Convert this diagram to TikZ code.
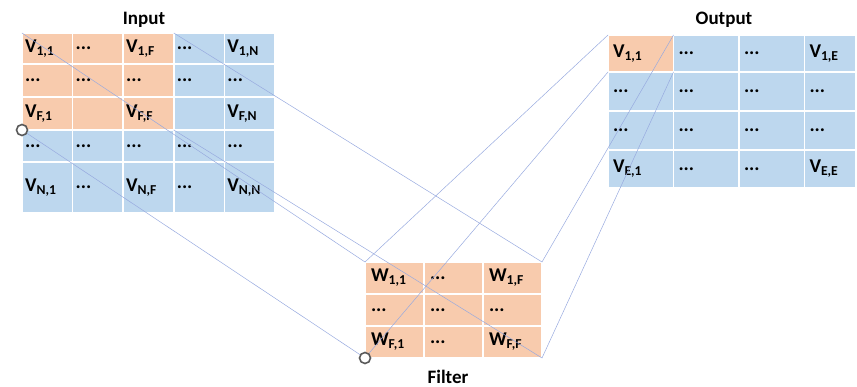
\documentclass[tikz,border=0pt]{standalone}
\usepackage{fontspec}
\setmainfont{Carlito}
\definecolor{orng}{HTML}{F8CBAD}
\definecolor{blu}{HTML}{BDD7EE}
\definecolor{linkblue}{HTML}{98AADF}
\definecolor{pivotgray}{HTML}{595959}
\newcommand\cv[3]{#1\textsubscript{#2,#3}}
\newcommand\gdots{...}

\begin{document}
\begin{tikzpicture}[x=1pt, y=-1pt,
    cell/.style={draw=white, line width=1.5pt, outer sep=0pt, inner ysep=0pt,
        anchor=north west, align=left,
        font=\bfseries\fontsize{19.5}{22}\selectfont},
    title/.style={font=\bfseries\fontsize{19}{22}\selectfont, inner sep=0pt, anchor=base},
    link/.style={draw=linkblue, line width=0.5pt},
    pivot/.style={circle, draw=pivotgray, fill=white, line width=1.6pt,
        minimum size=11pt, inner sep=0pt}]

    \useasboundingbox (0,0) rectangle (857,387);

    % input grid
    \foreach \r/\y/\h/\norg/\labs in {
        1/33/31/3/{\cv V11,\gdots,\cv V1F,\gdots,\cv V1N},
        2/64/33/3/{\gdots,\gdots,\gdots,\gdots,\gdots},
        3/97/33/3/{\cv VF1,{},\cv VFF,{},\cv VFN},
        4/130/32/0/{\gdots,\gdots,\gdots,\gdots,\gdots},
        5/162/51/0/{\cv VN1,\gdots,\cv VNF,\gdots,\cv VNN}}{
        \foreach \t [count=\c] in \labs {
            \ifnum\c>\norg \def\cf{blu}\else\def\cf{orng}\fi
            \node[cell, fill=\cf, inner xsep=3pt, minimum width=50.6pt,
                text width=44.6pt, minimum height=\h pt]
                (in-\r-\c) at ({22+(\c-1)*50.6}, \y) {\t};
        }
    }

    % filter grid
    \foreach \r/\y/\labs in {
        1/262/{\cv W11,\gdots,\cv W1F},
        2/294/{\gdots,\gdots,\gdots},
        3/326/{\cv WF1,\gdots,\cv WFF}}{
        \foreach \t [count=\c] in \labs {
            \node[cell, fill=orng, inner xsep=6pt, minimum width=59pt,
                text width=47pt, minimum height=32pt]
                (flt-\r-\c) at ({365+(\c-1)*59}, \y) {\t};
        }
    }

    % output grid
    \foreach \r/\y/\h/\norg/\labs in {
        1/35/37/1/{\cv V11,\gdots,\gdots,\cv V1E},
        2/72/39/0/{\gdots,\gdots,\gdots,\gdots},
        3/111/39/0/{\gdots,\gdots,\gdots,\gdots},
        4/150/38/0/{\cv VE1,\gdots,\gdots,\cv VEE}}{
        \foreach \t [count=\c] in \labs {
            \ifnum\c>\norg \def\cf{blu}\else\def\cf{orng}\fi
            \pgfmathsetmacro\w{\c==4 ? 51 : 65.5}
            \pgfmathsetmacro\tw{\w-10}
            \node[cell, fill=\cf, inner xsep=5pt, minimum width=\w pt,
                text width=\tw pt, minimum height=\h pt]
                (out-\r-\c) at ({608+(\c-1)*65.5}, \y) {\t};
        }
    }

    % titles
    \node[title] (intitle) at (144,25) {Input};
    \node[title] (outtitle) at (724,25) {Output};
    \node[title] (flttitle) at (448,383) {Filter};

    % corner links
    \foreach \a/\b in {in-1-1.north west/flt-1-1.north west,
                       in-1-3.north east/flt-1-3.north east,
                       in-3-1.south west/flt-3-1.south west,
                       in-3-3.south east/flt-3-3.south east,
                       flt-1-1.north west/out-1-1.north west,
                       flt-1-3.north east/out-1-1.north east,
                       flt-3-1.south west/out-1-1.south west,
                       flt-3-3.south east/out-1-1.south east}{
        \draw[link] (\a) -- (\b);
    }

    \node[pivot] (inpivot) at (in-3-1.south west) {};
    \node[pivot] (fltpivot) at (flt-3-1.south west) {};
\end{tikzpicture}
\end{document}
